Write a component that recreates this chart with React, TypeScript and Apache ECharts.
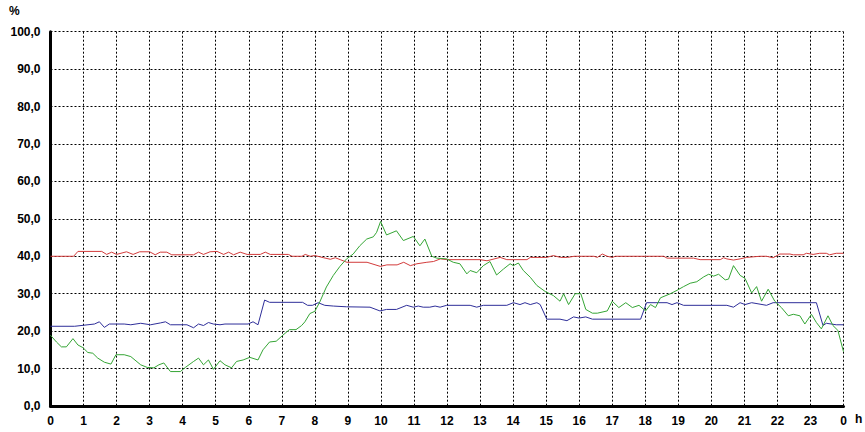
import React, { useEffect, useRef } from "react";
import * as echarts from "echarts";

const xTicks: number[] = [0, 1, 2, 3, 4, 5, 6, 7, 8, 9, 10, 11, 12, 13, 14, 15, 16, 17, 18, 19, 20, 21, 22, 23, 24];

const redSeries: [number, number][] = [
  [0, 40], [0.7, 40], [0.83, 41.3], [1.55, 41.3], [1.7, 40.5], [1.85, 41.1], [2.0, 40.5], [2.3, 41.2],
  [2.5, 40.5], [2.7, 41.2], [3.0, 41.2], [3.17, 40.4], [3.32, 41.1], [3.52, 41.1], [3.67, 40.4], [4.33, 40.4],
  [4.48, 41.1], [4.63, 40.5], [4.83, 41.2], [5.04, 41.3], [5.24, 40.5], [5.39, 41.1], [5.54, 40.4], [5.74, 41.1],
  [5.95, 40.5], [6.35, 40.5], [6.5, 41.1], [6.65, 40.5], [7.2, 40.5], [7.31, 40.0], [7.61, 40.0], [7.71, 40.5],
  [7.86, 40.0], [8.0, 40.2], [8.27, 39.6], [8.47, 39.2], [8.62, 39.6], [8.77, 39.1], [8.97, 38.4], [9.58, 38.4],
  [9.98, 37.3], [10.18, 37.7], [10.49, 37.7], [10.69, 38.4], [10.89, 37.5], [11.09, 38.0], [11.39, 38.4], [11.59, 38.6],
  [11.8, 39.3], [12.0, 39.1], [13.0, 39.1], [13.21, 38.8], [13.61, 39.7], [13.81, 39.1], [14.42, 39.1], [14.52, 39.7],
  [15.02, 39.7], [15.22, 40.2], [15.43, 39.7], [15.65, 39.7], [15.85, 40.0], [16.45, 40.0], [16.55, 39.7], [16.7, 40.6],
  [16.85, 40.0], [17.0, 39.7], [17.1, 40.0], [18.56, 40.0], [18.66, 39.5], [19.46, 39.5], [19.66, 39.1], [20.27, 39.1],
  [20.37, 39.6], [20.47, 39.3], [20.67, 39.0], [20.87, 39.3], [21.07, 39.7], [21.47, 40.0], [21.67, 40.0], [21.87, 39.6],
  [22.07, 40.6], [22.38, 40.6], [22.48, 40.4], [22.78, 40.4], [22.88, 40.8], [23.08, 40.5], [23.28, 40.8], [23.48, 40.8],
  [23.58, 40.4], [23.78, 40.8], [24, 40.8],
];

const blueSeries: [number, number][] = [
  [0, 21.3], [0.73, 21.3], [1.33, 21.9], [1.48, 22.5], [1.63, 21.0], [1.78, 21.9], [2.23, 21.9], [2.43, 21.7],
  [2.73, 22.1], [3.03, 21.7], [3.33, 22.2], [3.48, 22.5], [3.63, 21.7], [4.13, 21.7], [4.33, 20.9], [4.48, 21.9],
  [4.63, 21.5], [4.78, 22.3], [4.93, 21.9], [5.13, 21.7], [5.28, 21.9], [5.98, 21.9], [6.13, 22.5], [6.28, 21.7],
  [6.48, 28.3], [6.63, 27.7], [7.63, 27.7], [7.78, 26.9], [7.93, 26.9], [8.1, 27.6], [8.3, 26.9], [8.56, 26.7],
  [8.96, 26.5], [9.67, 26.4], [9.97, 25.4], [10.17, 25.8], [10.47, 25.8], [10.78, 26.9], [10.98, 26.4], [11.13, 26.7],
  [11.28, 26.4], [11.48, 26.4], [11.64, 26.7], [11.79, 26.4], [11.99, 26.9], [12.7, 26.9], [12.9, 26.4], [13.1, 26.9],
  [13.81, 26.9], [14.01, 27.6], [14.21, 27.1], [14.36, 27.6], [14.52, 27.1], [14.72, 27.6], [14.82, 27.1], [15.02, 23.2],
  [15.42, 23.2], [15.63, 22.8], [15.83, 23.8], [16.0, 23.5], [16.2, 23.8], [16.4, 23.2], [17.86, 23.2], [18.04, 27.6],
  [18.66, 27.6], [18.81, 27.1], [18.96, 27.6], [19.16, 26.9], [20.47, 26.9], [20.67, 26.4], [20.87, 27.6], [21.02, 27.1],
  [21.22, 27.6], [21.67, 26.9], [21.87, 27.6], [23.18, 27.6], [23.38, 21.5], [23.48, 22.1], [23.78, 21.7], [24, 21.7],
];

const greenSeries: [number, number][] = [
  [0, 18.9], [0.18, 17.1], [0.33, 15.8], [0.48, 15.8], [0.68, 18.0], [0.83, 16.3], [0.98, 15.6], [1.13, 14.3],
  [1.28, 14.1], [1.43, 12.8], [1.63, 11.7], [1.83, 11.2], [1.98, 13.7], [2.23, 13.7], [2.43, 13.2], [2.73, 11.0],
  [2.93, 10.3], [3.13, 10.2], [3.28, 11.0], [3.43, 11.5], [3.63, 9.2], [3.93, 9.2], [4.08, 10.3], [4.33, 11.9],
  [4.48, 12.8], [4.63, 11.0], [4.78, 12.3], [4.93, 9.8], [5.13, 12.1], [5.28, 11.0], [5.48, 10.2], [5.63, 11.9],
  [5.83, 12.3], [6.03, 13.0], [6.28, 12.3], [6.43, 15.0], [6.63, 17.1], [6.83, 17.3], [7.03, 18.9], [7.23, 20.4],
  [7.43, 20.4], [7.6, 21.5], [7.7, 22.5], [7.85, 24.7], [8.0, 25.3], [8.15, 27.8], [8.35, 31.8], [8.56, 34.9],
  [8.76, 37.3], [8.96, 39.3], [9.16, 40.6], [9.36, 42.8], [9.57, 44.6], [9.77, 45.2], [9.87, 46.4], [9.99, 49.3],
  [10.17, 45.7], [10.47, 46.8], [10.68, 44.2], [10.98, 45.3], [11.18, 42.8], [11.33, 44.6], [11.54, 40.0], [11.69, 39.5],
  [11.99, 39.3], [12.19, 38.4], [12.39, 38.0], [12.6, 35.3], [12.7, 36.2], [12.9, 35.6], [13.1, 37.5], [13.3, 38.6],
  [13.5, 35.0], [13.71, 36.6], [13.91, 38.0], [14.01, 37.5], [14.16, 38.2], [14.31, 36.2], [14.52, 34.4], [14.72, 32.2],
  [14.97, 30.6], [15.22, 29.5], [15.42, 28.0], [15.53, 30.0], [15.68, 27.1], [15.88, 30.0], [16.05, 30.0], [16.2, 25.8],
  [16.4, 24.8], [16.55, 24.8], [16.85, 25.4], [17.0, 28.0], [17.2, 26.3], [17.41, 27.6], [17.61, 26.3], [17.81, 26.9],
  [18.01, 25.4], [18.16, 27.1], [18.31, 26.3], [18.46, 28.9], [18.76, 30.0], [18.96, 30.9], [19.16, 31.9], [19.36, 32.8],
  [19.56, 33.2], [19.77, 34.5], [19.92, 35.2], [20.07, 34.7], [20.22, 35.2], [20.42, 33.7], [20.52, 33.9], [20.67, 37.5],
  [20.87, 34.9], [21.02, 34.1], [21.22, 30.2], [21.37, 31.9], [21.52, 28.0], [21.72, 31.2], [21.92, 28.0], [22.12, 26.3],
  [22.33, 24.1], [22.48, 24.5], [22.68, 24.1], [22.83, 21.9], [23.03, 24.5], [23.18, 22.3], [23.33, 20.6], [23.53, 24.1],
  [23.68, 21.5], [23.83, 20.2], [24, 14.5],
];

const yUnit = "%";
const xUnit = "h";

export default function App() {
  const ref = useRef<HTMLDivElement>(null);
  useEffect(() => {
    if (!ref.current) return;
    const chart = echarts.init(ref.current, undefined, { renderer: "svg" });
    const labelFont = {
      fontFamily: "Liberation Sans, Arial, sans-serif",
      fontWeight: "bold" as const,
      fontSize: 12,
      color: "#000",
    };
    const grid = { left: 50.5, right: 21.5, top: 31.7, bottom: 26 };
    chart.setOption({
      animation: false,
      backgroundColor: "#fff",
      grid,
      xAxis: {
        type: "value",
        min: 0,
        max: 24,
        interval: 1,
        axisLine: { show: true, onZero: false, lineStyle: { color: "#000", width: 3 } },
        axisTick: { show: false },
        axisLabel: {
          ...labelFont,
          margin: 9,
          formatter: (v: number) => (v === 24 ? "0" : String(v)),
        },
        splitLine: { show: true, lineStyle: { color: "#000", width: 1, type: [2, 2] } },
      },
      yAxis: {
        type: "value",
        min: 0,
        max: 100,
        interval: 10,
        axisLine: { show: true, lineStyle: { color: "#000", width: 3 } },
        axisTick: { show: false },
        axisLabel: {
          ...labelFont,
          margin: 10,
          formatter: (v: number) => v.toFixed(1).replace(".", ","),
        },
        splitLine: { show: true, lineStyle: { color: "#000", width: 1, type: [2, 2] } },
      },
      graphic: [
        { type: "text", left: 9, top: 5, style: { text: yUnit, font: "bold 12px Liberation Sans, Arial, sans-serif", fill: "#000" } },
        { type: "text", left: 855, top: 413, style: { text: xUnit, font: "bold 12px Liberation Sans, Arial, sans-serif", fill: "#000" } },
      ],
      series: [
        { type: "line", data: redSeries, showSymbol: false, lineStyle: { color: "#d23b3b", width: 1 }, z: 3 },
        { type: "line", data: blueSeries, showSymbol: false, lineStyle: { color: "#2e2e99", width: 1 }, z: 4 },
        { type: "line", data: greenSeries, showSymbol: false, lineStyle: { color: "#35a535", width: 1 }, z: 5 },
      ],
    });
    return () => chart.dispose();
  }, []);
  return <div ref={ref} style={{ position: "absolute", left: 0, top: 0, width: 865, height: 432 }} />;
}
